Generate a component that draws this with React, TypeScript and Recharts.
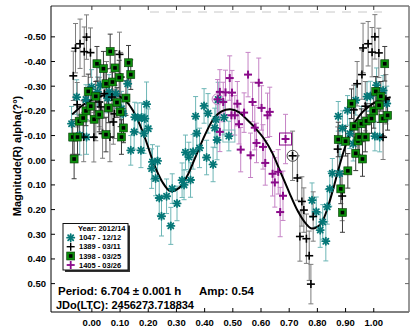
import React from 'react';
import { ComposedChart, Scatter, Line, XAxis, YAxis, ErrorBar } from 'recharts';

// [phase, magnitude, error]
type Obs = [number, number, number];

const X_TICKS = [0, 0.1, 0.2, 0.3, 0.4, 0.5, 0.6, 0.7, 0.8, 0.9, 1.0];
const Y_TICKS = [-0.5, -0.4, -0.3, -0.2, -0.1, 0, 0.1, 0.2, 0.3, 0.4, 0.5];

const SESSION_LABELS = ['1047 - 12/12', '1389 - 03/11', '1398 - 03/25', '1405 - 03/26'];
const LEGEND_TITLE = 'Year: 2012/14';
const PERIOD_TEXT = 'Period: 6.704 ± 0.001 h';
const AMP_TEXT = 'Amp: 0.54';
const JDO_TEXT = 'JDo(LTC): 2456273.718834';
const Y_LABEL = 'Magnitude(R) alpha(?°)';

const S1047: Obs[] = [
  [-0.072, -0.148, 0.07], [-0.054, -0.256, 0.07], [-0.043, -0.101, 0.08], [-0.021, -0.246, 0.06],
  [-0.019, -0.094, 0.07], [-0.001, -0.297, 0.07], [0.02, -0.277, 0.06], [0.03, -0.304, 0.07],
  [0.056, -0.252, 0.06], [0.061, -0.277, 0.07], [0.085, -0.27, 0.06], [0.105, -0.209, 0.07],
  [0.111, -0.189, 0.07], [0.127, -0.31, 0.08], [0.138, -0.04, 0.06], [0.15, -0.115, 0.07],
  [0.152, -0.175, 0.06], [0.163, -0.172, 0.06], [0.174, -0.04, 0.07], [0.176, -0.173, 0.06],
  [0.185, -0.108, 0.08], [0.188, -0.169, 0.06], [0.194, -0.227, 0.09], [0.2, -0.128, 0.08],
  [0.215, 0.007, 0.07], [0.212, 0.034, 0.08], [0.226, 0.074, 0.07], [0.233, 0.003, 0.06],
  [0.239, 0.153, 0.07], [0.247, 0.227, 0.08], [0.265, 0.146, 0.07], [0.28, 0.266, 0.075],
  [0.285, 0.115, 0.06], [0.302, 0.175, 0.07], [0.32, 0.081, 0.07], [0.327, 0.1, 0.06],
  [0.332, -0.032, 0.07], [0.344, -0.013, 0.06], [0.35, 0.08, 0.07], [0.359, -0.034, 0.07],
  [0.368, -0.178, 0.08], [0.372, -0.109, 0.07], [0.382, -0.05, 0.08], [0.398, -0.22, 0.07],
  [0.407, -0.011, 0.07], [0.412, -0.19, 0.08], [0.43, 0.017, 0.07], [0.436, -0.131, 0.08],
  [0.44, -0.165, 0.07], [0.444, -0.082, 0.08], [0.448, -0.246, 0.07], [0.469, -0.173, 0.07],
  [0.486, -0.098, 0.06],
  [0.781, 0.162, 0.07], [0.796, 0.209, 0.06], [0.81, 0.283, 0.07], [0.819, 0.25, 0.07],
  [0.83, 0.328, 0.08], [0.835, 0.189, 0.07], [0.844, 0.116, 0.07], [0.853, 0.053, 0.06],
  [0.874, -0.178, 0.06], [0.879, 0.054, 0.07], [0.88, -0.081, 0.06], [0.889, -0.13, 0.07],
  [0.907, -0.202, 0.06], [0.915, -0.108, 0.06], [0.927, -0.067, 0.07], [0.936, -0.243, 0.06],
  [0.956, -0.148, 0.07], [0.976, -0.258, 0.06], [0.988, -0.26, 0.06], [1.004, -0.098, 0.06],
  [1.01, -0.304, 0.07], [1.021, -0.094, 0.06], [1.033, -0.283, 0.06], [1.046, -0.23, 0.07],
];

const S1389: Obs[] = [
  [-0.066, -0.342, 0.1], [-0.058, -0.454, 0.1], [-0.052, -0.225, 0.09], [-0.042, -0.472, 0.1],
  [-0.029, -0.094, 0.1], [-0.027, -0.44, 0.1], [-0.019, -0.499, 0.09], [-0.005, -0.436, 0.1],
  [0.007, -0.093, 0.1], [0.014, -0.169, 0.09], [0.026, -0.236, 0.1], [0.032, -0.216, 0.09],
  [0.038, -0.108, 0.1], [0.044, -0.27, 0.1], [0.052, -0.31, 0.09], [0.064, -0.094, 0.1],
  [0.071, -0.256, 0.1], [0.076, -0.155, 0.09], [0.08, -0.188, 0.1], [0.098, -0.429, 0.09],
  [0.102, -0.337, 0.1],
  [0.712, -0.018, 0.1], [0.729, 0.072, 0.09], [0.738, 0.309, 0.1], [0.745, 0.167, 0.1],
  [0.752, 0.202, 0.09], [0.761, 0.318, 0.1], [0.771, 0.387, 0.1], [0.777, 0.502, 0.08],
  [0.785, 0.228, 0.1], [0.872, -0.045, 0.09], [0.888, 0.145, 0.1], [0.929, -0.204, 0.1],
  [0.941, -0.31, 0.09], [0.958, -0.347, 0.1], [0.962, -0.455, 0.1], [0.97, -0.219, 0.1],
  [0.98, -0.472, 0.09], [0.994, -0.438, 0.1], [1.004, -0.5, 0.09], [1.018, -0.435, 0.1],
  [1.033, -0.093, 0.09], [1.043, -0.247, 0.1],
];

const S1398: Obs[] = [
  [-0.068, -0.094, 0.07], [-0.063, -0.005, 0.08], [-0.051, -0.094, 0.07], [-0.045, -0.158, 0.06],
  [-0.031, -0.171, 0.07], [-0.021, -0.2, 0.06], [-0.013, -0.279, 0.07], [-0.004, -0.219, 0.06],
  [0.008, -0.166, 0.07], [0.014, -0.259, 0.06], [0.018, -0.391, 0.07], [0.026, -0.185, 0.07],
  [0.041, -0.371, 0.07], [0.05, -0.31, 0.06], [0.05, -0.104, 0.07], [0.059, -0.212, 0.06],
  [0.065, -0.441, 0.07], [0.073, -0.317, 0.06], [0.082, -0.374, 0.07], [0.089, -0.234, 0.06],
  [0.097, -0.335, 0.07], [0.1, -0.196, 0.06], [0.105, -0.094, 0.07], [0.112, -0.131, 0.06],
  [0.121, -0.252, 0.07], [0.13, -0.395, 0.07], [0.138, -0.347, 0.06],
  [0.874, -0.084, 0.07], [0.883, 0.116, 0.06], [0.889, 0.212, 0.08], [0.9, -0.077, 0.06],
  [0.908, 0.043, 0.07], [0.921, -0.229, 0.06], [0.93, -0.138, 0.07], [0.936, -0.028, 0.07],
  [0.944, -0.078, 0.06], [0.948, -0.094, 0.07], [0.956, -0.148, 0.06], [0.96, -0.005, 0.07],
  [0.97, -0.094, 0.06], [0.974, -0.159, 0.07], [0.992, -0.169, 0.06], [1.0, -0.2, 0.07],
  [1.007, -0.279, 0.06], [1.019, -0.223, 0.07], [1.025, -0.259, 0.06], [1.033, -0.169, 0.07],
  [1.039, -0.391, 0.07], [1.049, -0.182, 0.06],
];

const S1405: Obs[] = [
  [0.446, -0.247, 0.08], [0.454, -0.277, 0.09], [0.454, -0.115, 0.08], [0.466, -0.236, 0.08],
  [0.474, -0.275, 0.09], [0.489, -0.333, 0.09], [0.495, -0.182, 0.08], [0.497, -0.274, 0.09],
  [0.507, -0.182, 0.08], [0.516, -0.229, 0.09], [0.522, -0.146, 0.08], [0.528, -0.043, 0.09],
  [0.54, -0.193, 0.08], [0.554, -0.347, 0.09], [0.563, -0.02, 0.09], [0.57, -0.236, 0.08],
  [0.578, -0.132, 0.09], [0.584, -0.07, 0.08], [0.592, -0.314, 0.1], [0.602, -0.212, 0.09],
  [0.607, -0.054, 0.09], [0.615, 0.011, 0.09], [0.623, -0.182, 0.09], [0.631, -0.196, 0.1],
  [0.641, 0.055, 0.09], [0.649, 0.09, 0.1], [0.661, 0.047, 0.09], [0.668, 0.21, 0.1],
  [0.678, 0.144, 0.1], [0.687, -0.086, 0.1],
];

// highlighted points (indexes into the series above)
const BOXED_1047 = [52];
const CIRCLED_1389 = [21];
const CIRCLED_1405 = [0];
const BOXED_1405 = [29];

// Fourier fit
const FIT_PHASE = [-0.07, -0.03, 0, 0.03, 0.07, 0.1, 0.13, 0.16, 0.19, 0.22, 0.25, 0.28, 0.31, 0.34, 0.37, 0.4, 0.43, 0.46, 0.49, 0.52, 0.55, 0.58, 0.61, 0.64, 0.67, 0.7, 0.73, 0.76, 0.78, 0.8, 0.82, 0.84, 0.86, 0.88, 0.9, 0.92, 0.95, 0.98, 1.01, 1.04, 1.06];
const FIT_MAG = [-0.185, -0.225, -0.245, -0.259, -0.268, -0.258, -0.228, -0.17, -0.085, 0.015, 0.088, 0.126, 0.112, 0.06, -0.02, -0.1, -0.165, -0.198, -0.207, -0.196, -0.165, -0.13, -0.088, -0.03, 0.05, 0.13, 0.205, 0.258, 0.277, 0.27, 0.243, 0.18, 0.1, 0.015, -0.06, -0.125, -0.182, -0.215, -0.238, -0.25, -0.255];

const FONT = '"Liberation Sans", Arial, sans-serif';
const TEAL = '#067878';
const GREEN = '#0c8f0c';
const PURPLE = '#8a0a8a';

const X_DOMAIN = [-0.145, 1.125];
const Y_DOMAIN = [-0.625, 0.615];

const toRows = (s: Obs[], boxed: number[] = [], circled: number[] = []) =>
  s.map(([x, y, e], i) => ({ x, y, e, box: boxed.includes(i), ring: circled.includes(i) }));

const fitRows = FIT_PHASE.map((x, i) => ({ x, y: FIT_MAG[i] }));

const Star = ({ cx, cy, color }: any) => {
  const r = 3.6;
  const d = r * 0.72;
  return (
    <g stroke={color} strokeWidth={1.8} strokeLinecap="round">
      <line x1={cx - r} y1={cy} x2={cx + r} y2={cy} />
      <line x1={cx} y1={cy - r} x2={cx} y2={cy + r} />
      <line x1={cx - d} y1={cy - d} x2={cx + d} y2={cy + d} />
      <line x1={cx - d} y1={cy + d} x2={cx + d} y2={cy - d} />
    </g>
  );
};

const Plus = ({ cx, cy, color, w = 1.6 }: any) => (
  <g stroke={color} strokeWidth={w}>
    <line x1={cx - 4} y1={cy} x2={cx + 4} y2={cy} />
    <line x1={cx} y1={cy - 4} x2={cx} y2={cy + 4} />
  </g>
);

const Square = ({ cx, cy }: any) => (
  <g>
    <rect x={cx - 4} y={cy - 4} width={8} height={8} fill={GREEN} stroke="#0a3a0a" strokeWidth={0.6} />
    <rect x={cx - 1.8} y={cy - 1.8} width={3.6} height={3.6} fill="#000" />
  </g>
);

const tealShape = (p: any) => (
  <g>
    {p.payload?.box && <rect x={p.cx - 6} y={p.cy - 6} width={12} height={12} fill="none" stroke="#7fbcbc" strokeWidth={1} />}
    <Star cx={p.cx} cy={p.cy} color={TEAL} />
  </g>
);
const blackShape = (p: any) => (
  <g>
    {p.payload?.ring && <circle cx={p.cx} cy={p.cy} r={5.5} fill="none" stroke="#444" strokeWidth={1} />}
    <Plus cx={p.cx} cy={p.cy} color="#000" />
  </g>
);
const greenShape = (p: any) => <Square cx={p.cx} cy={p.cy} />;
const purpleShape = (p: any) => (
  <g>
    {p.payload?.ring && <circle cx={p.cx} cy={p.cy} r={5.5} fill="none" stroke="#c27cc2" strokeWidth={1} />}
    {p.payload?.box && <rect x={p.cx - 6} y={p.cy - 6} width={12} height={12} fill="none" stroke={PURPLE} strokeWidth={1} />}
    <Plus cx={p.cx} cy={p.cy} color={PURPLE} w={2} />
  </g>
);

const BottomTick = ({ x, y, payload }: any) => (
  <g>
    <line x1={x} y1={y} x2={x} y2={y - 4} stroke="#000" />
    <text x={x} y={y + 13.5} textAnchor="middle" fontSize={9.5} fontWeight="bold" fontFamily={FONT} fill="#000">
      {payload.value.toFixed(2)}
    </text>
  </g>
);
const LeftTick = ({ x, y, payload }: any) => (
  <g>
    <line x1={x} y1={y} x2={x + 4} y2={y} stroke="#000" />
    <text x={x - 5} y={y + 3.5} textAnchor="end" fontSize={9.5} fontWeight="bold" fontFamily={FONT} fill="#000">
      {payload.value.toFixed(2)}
    </text>
  </g>
);
const TopTick = ({ x, y }: any) => <line x1={x} y1={y} x2={x} y2={y + 4} stroke="#333" />;
const RightTick = ({ x, y }: any) => <line x1={x} y1={y} x2={x - 4} y2={y} stroke="#666" />;

function LegendBox() {
  const left = 63;
  const top = 223.5;
  const rowY = [237.7, 246.7, 256, 265];
  const markers = [
    <Star key="a" cx={70.7} cy={rowY[0]} color={TEAL} />,
    <Plus key="b" cx={70.7} cy={rowY[1]} color="#000" w={1.4} />,
    <Square key="c" cx={70.7} cy={rowY[2]} />,
    <Plus key="d" cx={70.7} cy={rowY[3]} color={PURPLE} w={1.8} />,
  ];
  return (
    <g fontFamily={FONT} fontWeight="bold">
      <rect x={left + 2} y={top + 2} width={65} height={46.5} fill="#333" />
      <rect x={left} y={top} width={65} height={46.5} fill="#fff" stroke="#111" strokeWidth={1} />
      <text x={78} y={230.8} fontSize={7.5} fill="#000">{LEGEND_TITLE}</text>
      {SESSION_LABELS.map((s, i) => (
        <g key={s}>
          {markers[i]}
          <text x={79} y={rowY[i] + 2.7} fontSize={7.5} fill="#000">{s}</text>
        </g>
      ))}
    </g>
  );
}

export default function App() {
  const teal = toRows(S1047, BOXED_1047);
  const black = toRows(S1389, [], CIRCLED_1389);
  const green = toRows(S1398);
  const purple = toRows(S1405, BOXED_1405, CIRCLED_1405);

  return (
    <div style={{ position: 'absolute', left: 0, top: 0, width: 415, height: 328, background: '#fff' }}>
      <ComposedChart width={415} height={328} data={fitRows} margin={{ top: 5, right: 5, bottom: 0, left: 0 }}>
        <XAxis
          dataKey="x" type="number" domain={X_DOMAIN} allowDataOverflow ticks={X_TICKS} interval={0}
          height={16} tickSize={0} tickMargin={0} tickLine={false} axisLine={{ stroke: '#000' }} tick={<BottomTick />}
        />
        <XAxis
          xAxisId="top" orientation="top" dataKey="x" type="number" domain={X_DOMAIN} allowDataOverflow ticks={X_TICKS}
          interval={0} height={1} tickSize={0} tickMargin={0} tickLine={false} axisLine={{ stroke: '#333' }} tick={<TopTick />}
        />
        <YAxis
          type="number" domain={Y_DOMAIN} reversed allowDataOverflow ticks={Y_TICKS} interval={0} width={51}
          tickSize={0} tickMargin={0} tickLine={false} axisLine={{ stroke: '#000' }} tick={<LeftTick />}
        />
        <YAxis
          yAxisId="right" orientation="right" type="number" domain={Y_DOMAIN} reversed allowDataOverflow ticks={Y_TICKS}
          interval={0} width={1} tickSize={0} tickMargin={0} tickLine={false}
          axisLine={{ stroke: '#777', strokeWidth: 1.5 }} tick={<RightTick />}
        />
        <Scatter data={teal} dataKey="y" shape={tealShape} isAnimationActive={false}>
          <ErrorBar dataKey="e" direction="y" width={2.5} stroke="#6db6b6" strokeWidth={1} isAnimationActive={false} />
        </Scatter>
        <Scatter data={black} dataKey="y" shape={blackShape} isAnimationActive={false}>
          <ErrorBar dataKey="e" direction="y" width={2.5} stroke="#7c7c7c" strokeWidth={1} isAnimationActive={false} />
        </Scatter>
        <Scatter data={green} dataKey="y" shape={greenShape} isAnimationActive={false}>
          <ErrorBar dataKey="e" direction="y" width={2.5} stroke="#3c3c3c" strokeWidth={1} isAnimationActive={false} />
        </Scatter>
        <Scatter data={purple} dataKey="y" shape={purpleShape} isAnimationActive={false}>
          <ErrorBar dataKey="e" direction="y" width={2.5} stroke="#c684c6" strokeWidth={1} isAnimationActive={false} />
        </Scatter>
        {/* the fit uses the top/right axes (same domains) so that the frame axes get drawn */}
        <Line
          xAxisId="top" yAxisId="right" dataKey="y" type="monotone" stroke="#000" strokeWidth={2}
          dot={false} activeDot={false} isAnimationActive={false}
        />
      </ComposedChart>
      <svg width={415} height={328} style={{ position: 'absolute', left: 0, top: 0, pointerEvents: 'none' }}>
        <line x1={150} y1={12} x2={382} y2={12} stroke="#c8c8c8" strokeWidth={1} strokeDasharray="9 7" />
        <text
          transform="translate(21,156) rotate(-90)" textAnchor="middle" fontSize={11} fontWeight="bold"
          fontFamily={FONT} fill="#000"
        >
          {Y_LABEL}
        </text>
        <LegendBox />
        <g fontFamily={FONT} fontWeight="bold" fill="#000">
          <text x={58} y={295} fontSize={11.5}>{PERIOD_TEXT}</text>
          <text x={199} y={295} fontSize={11.5}>{AMP_TEXT}</text>
          <text x={56} y={308.5} fontSize={11}>{JDO_TEXT}</text>
        </g>
      </svg>
    </div>
  );
}
